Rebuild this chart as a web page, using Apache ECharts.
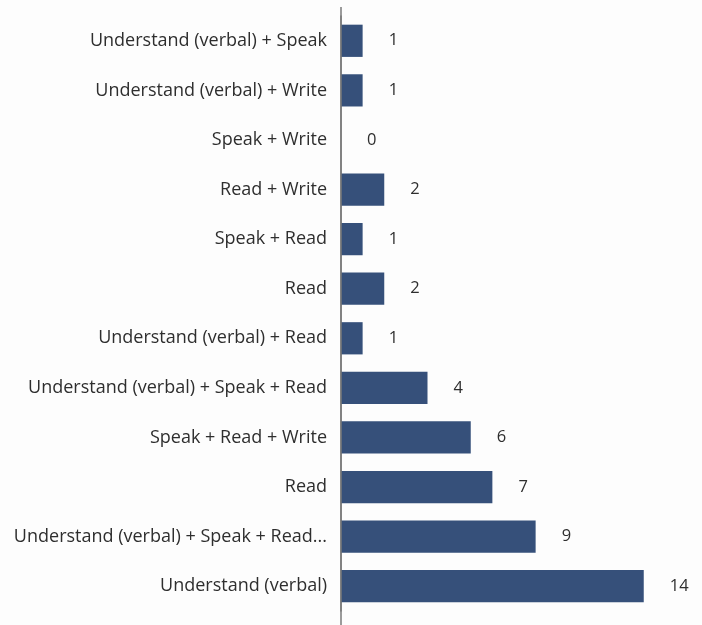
<!DOCTYPE html>
<html><head><meta charset="utf-8">
<script src="https://cdn.jsdelivr.net/npm/echarts@6/dist/echarts.min.js"></script>
<style>html,body{margin:0;padding:0;background:#fdfdfd;}#c{width:702px;height:625px;}</style>
</head><body><div id="c"></div>
<script>
const categories = [
  "Understand (verbal) + Speak",
  "Understand (verbal) + Write",
  "Speak + Write",
  "Read + Write",
  "Speak + Read",
  "Read",
  "Understand (verbal) + Read",
  "Understand (verbal) + Speak + Read",
  "Speak + Read + Write",
  "Read",
  "Understand (verbal) + Speak + Read...",
  "Understand (verbal)"
];
const values = [1, 1, 0, 2, 1, 2, 1, 4, 6, 7, 9, 14];

const chart = echarts.init(document.getElementById('c'), null, {renderer: 'canvas'});
const font = '"Open Sans", "Liberation Sans", sans-serif';
chart.setOption({
  backgroundColor: '#fdfdfd',
  animation: false,
  grid: {left: 341, right: 15, top: 16, bottom: 14, containLabel: false},
  xAxis: {type: 'value', min: 0, max: 16, show: false},
  yAxis: {
    type: 'category', data: categories, inverse: true,
    axisLine: {show: true, lineStyle: {color: '#7a7a7a', width: 1.5}},
    axisTick: {show: false},
    axisLabel: {color: '#2e2e2e', fontSize: 18, fontFamily: font, margin: 14}
  },
  series: [{
    type: 'bar', data: values, barCategoryGap: '35%',
    itemStyle: {color: '#36507a'},
    label: {show: true, position: 'right', distance: 26, color: '#2e2e2e', fontSize: 16.5, fontFamily: font}
  }]
});
const x0 = chart.convertToPixel({xAxisIndex: 0}, 0);
chart.setOption({graphic: [{type: 'line', shape: {x1: x0, y1: 7, x2: x0, y2: 625}, style: {stroke: '#7a7a7a', lineWidth: 1.5}, z: 10}]});
</script></body></html>
